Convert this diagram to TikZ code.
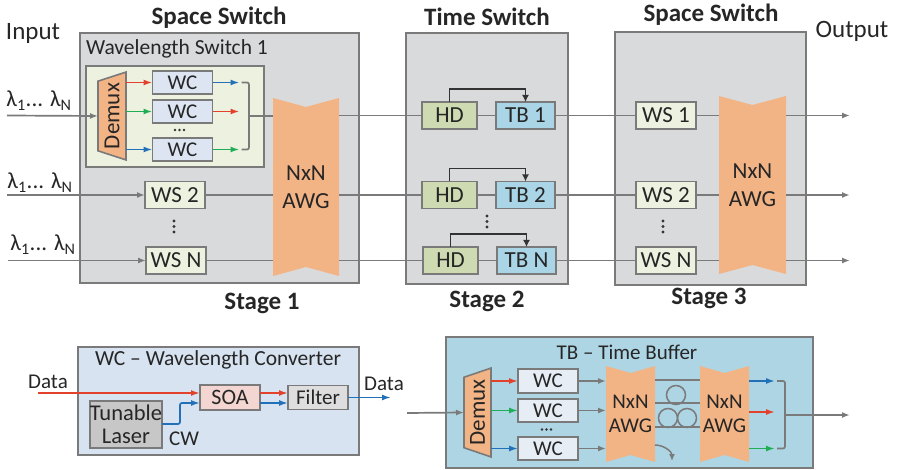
\documentclass[tikz,border=0pt]{standalone}
\usepackage{fontspec}
\setmainfont{Carlito}
\usetikzlibrary{arrows.meta, positioning, shapes.geometric, calc}
\definecolor{linegr}{HTML}{7A7A7A}
\definecolor{stagegr}{HTML}{D9DADC}
\definecolor{awgor}{HTML}{F2B385}
\definecolor{wsgr}{HTML}{EDF1E0}
\definecolor{hdgr}{HTML}{CEDBB2}
\definecolor{tbbl}{HTML}{A9D5E6}
\definecolor{wcbl}{HTML}{DCE5F1}
\definecolor{wcbox}{HTML}{D7E3F0}
\definecolor{tbbox}{HTML}{AED5E4}
\definecolor{soapk}{HTML}{F3D6D1}
\definecolor{sigr}{HTML}{E2412B}
\definecolor{sigg}{HTML}{20AE55}
\definecolor{sigb}{HTML}{2170B8}
\newcommand{\fs}[1]{\fontsize{#1}{#1}\selectfont}
\tikzset{
  stg/.style ={rectangle, draw=linegr, line width=1.6pt, fill=stagegr, outer sep=0pt},
  blk/.style ={rectangle, draw=linegr, line width=1.6pt, align=center, inner sep=0pt, outer sep=0pt, text=black!85},
  ws/.style  ={blk, fill=wsgr, minimum width=60pt, minimum height=27pt, font=\fs{23}},
  hd/.style  ={blk, fill=hdgr, minimum width=55pt, minimum height=27pt, font=\fs{23}},
  tb/.style  ={blk, fill=tbbl, minimum width=59pt, minimum height=27pt, font=\fs{23}},
  wc/.style  ={blk, fill=wcbl, minimum width=60pt, minimum height=23.5pt, font=\fs{21}},
  dmx/.style ={shape=trapezium, trapezium stretches=true, trapezium angle=60, rotate=90, draw=linegr, line width=1.6pt,
    fill=awgor, inner sep=0pt, outer sep=0pt, font=\fs{23}, text=black!85},
  awg/.style ={rectangle, inner sep=0pt, outer sep=0pt, align=center, text=black!85,
    path picture={\fill[awgor] (path picture bounding box.north west)
      -- ($(path picture bounding box.north)+(0,-#1pt)$)
      -- (path picture bounding box.north east)
      -- (path picture bounding box.south east)
      -- ($(path picture bounding box.south)+(0,#1pt)$)
      -- (path picture bounding box.south west) -- cycle;}},
  ttl/.style ={font=\fs{25}\bfseries, text=black!85, inner sep=0pt},
  lbl/.style ={font=\fs{21}, text=black!85, inner sep=0pt},
  loop/.style={circle, draw=linegr, line width=1.5pt, minimum size=19pt, inner sep=0pt},
  fl/.style  ={line width=1.7pt, draw=linegr, -{Latex[length=8pt,width=6pt]}},
  ln/.style  ={line width=1.7pt, draw=linegr},
  fb/.style  ={line width=1.6pt, draw=black!80, -{Latex[length=7pt,width=7pt]}},
  flr/.style ={line width=1.7pt, draw=sigr, -{Latex[length=9pt,width=6pt]}},
  flg/.style ={line width=1.7pt, draw=sigg, -{Latex[length=9pt,width=6pt]}},
  flb/.style ={line width=1.7pt, draw=sigb, -{Latex[length=9pt,width=6pt]}},
  dts/.style ={fill=black!80},
}
\begin{document}
\begin{tikzpicture}[x=1pt, y=-1pt]
  \useasboundingbox (0,0) rectangle (897,470);
  % top row
  \node[stg, minimum width=279pt, minimum height=250pt] (s1) at (219.5,158) {};
  \node[stg, minimum width=162pt, minimum height=251pt] (s2) at (487,158.5) {};
  \node[stg, minimum width=191pt, minimum height=253pt] (s3) at (710.5,158.5) {};
  \node[ttl] (t1) at (219,18) {Space Switch};
  \node[ttl] (t2) at (487,17) {Time Switch};
  \node[ttl] (t3) at (711,15) {Space Switch};
  \node[lbl, font=\fs{25}] (tin) at (33,33) {Input};
  \node[lbl, font=\fs{25}] (tout) at (852,31) {Output};
  \node[ttl] (g1) at (262,303) {Stage 1};
  \node[ttl] (g2) at (487,301) {Stage 2};
  \node[ttl] (g3) at (709,298) {Stage 3};
  \node[lbl, font=\fs{23}] (l1) at (39,101) {λ\textsubscript{1}... λ\textsubscript{N}};
  \node[lbl, font=\fs{23}] (l2) at (40,183) {λ\textsubscript{1}... λ\textsubscript{N}};
  \node[lbl, font=\fs{23}] (l3) at (43,245) {λ\textsubscript{1}... λ\textsubscript{N}};
  \node[lbl, font=\fs{21.5}] (wst) at (177,49) {Wavelength Switch 1};
  \node[rectangle, draw=linegr, line width=1.6pt, fill=wsgr, minimum width=178pt, minimum height=101pt, outer sep=0pt] (ws1) at (175,116.5) {};
  \node[dmx, minimum width=88pt, minimum height=28pt] (dm1) at (112,116) {Demux};
  \node[wc] (wc1) at (182.5,82.5) {WC};
  \node[wc, below=5.5pt of wc1] (wc2) {WC};
  \node[wc] (wc3) at (182.5,149.5) {WC};
  \fill[dts] (175,130) circle (1.4) (179.5,130) circle (1.4) (184,130) circle (1.4);
  \coordinate[right=27pt of wc1] (o1);
  \coordinate[right=27pt of wc2] (o2);
  \coordinate[right=27pt of wc3] (o3);
  \coordinate (mj) at (249,116);
  \node[ws] (ws2) at (175,195) {WS 2};
  \node[ws] (wsn) at (176,260.5) {WS N};
  \fill[dts] (174,221) circle (1.7) (174,226.5) circle (1.7) (174,232) circle (1.7);
  \node[awg=9, minimum width=66pt, minimum height=178pt, font=\fs{23}] (a1) at (306,187) {NxN\\[5pt]AWG};
  \node[hd] (hd1) at (449.5,115.5) {HD};
  \node[tb, right=19pt of hd1] (tb1) {TB 1};
  \node[hd] (hd2) at (449.5,195) {HD};
  \node[tb, right=19pt of hd2] (tb2) {TB 2};
  \node[hd] (hdn) at (450.5,260.5) {HD};
  \node[tb, right=19pt of hdn] (tbn) {TB N};
  \fill[dts] (487,216) circle (1.7) (487,221.5) circle (1.7) (487,227) circle (1.7);
  \node[ws] (ws31) at (666,115.5) {WS 1};
  \node[ws] (ws32) at (666,195) {WS 2};
  \node[ws] (ws3n) at (666,260.5) {WS N};
  \fill[dts] (663,221) circle (1.7) (663,226.5) circle (1.7) (663,232) circle (1.7);
  \node[awg=9, minimum width=67pt, minimum height=178pt, font=\fs{23}] (a3) at (752.5,185) {NxN\\[5pt]AWG};
  \coordinate (in1) at (7,115.5);
  \coordinate (in2) at (7,195);
  \coordinate (in3) at (8,260.5);
  \coordinate (out1) at (850,115.5);
  \coordinate (out2) at (850,195);
  \coordinate (out3) at (850,260.5);
  \draw[fl] (in1) -- (dm1.north);
  \draw[fl] (in2) -- (ws2);
  \draw[fl] (in3) -- (wsn);
  \draw[flr] (wc1.west -| dm1.south) -- (wc1);
  \draw[flg] (wc2.west -| dm1.south) -- (wc2);
  \draw[flb] (wc3.west -| dm1.south) -- (wc3);
  \draw[flb] (wc1) -- (o1);
  \draw[flr] (wc2) -- (o2);
  \draw[flg] (wc3) -- (o3);
  \draw[ln, rounded corners=2pt] (o1) ++(2,0) -| (mj) |- ($(o3)+(2,0)$);
  \draw[ln] (mj) -- (mj -| a1.west);
  \draw[ln] (ws2) -- (ws2 -| a1.west);
  \draw[ln] (wsn) -- (wsn -| a1.west);
  \draw[ln] (hd1 -| a1.east) -- (hd1);
  \draw[ln] (hd2 -| a1.east) -- (hd2);
  \draw[ln] (hdn -| a1.east) -- (hdn);
  \draw[ln] (hd1) -- (tb1);
  \draw[ln] (hd2) -- (tb2);
  \draw[ln] (hdn) -- (tbn);
  \draw[fb] (hd1.north) -- ++(0,-13) -| (tb1.north);
  \draw[fb] (hd2.north) -- ++(0,-13) -| (tb2.north);
  \draw[fb] (hdn.north) -- ++(0,-13) -| (tbn.north);
  \draw[ln] (tb1) -- (ws31);
  \draw[ln] (tb2) -- (ws32);
  \draw[ln] (tbn) -- (ws3n);
  \draw[ln] (ws31) -- (ws31 -| a3.west);
  \draw[ln] (ws32) -- (ws32 -| a3.west);
  \draw[ln] (ws3n) -- (ws3n -| a3.west);
  \draw[fl] (out1 -| a3.east) -- (out1);
  \draw[fl] (out2 -| a3.east) -- (out2);
  \draw[fl] (out3 -| a3.east) -- (out3);
  % wavelength converter
  \node[stg, fill=wcbox, minimum width=281pt, minimum height=108pt] (wcb) at (218.5,401) {};
  \node[lbl, font=\fs{21.5}] (wct) at (218,360) {WC -- Wavelength Converter};
  \node[blk, fill=soapk, minimum width=60pt, minimum height=25pt, font=\fs{22}] (soa) at (230,397.5) {SOA};
  \node[blk, fill=black!13, minimum width=60pt, minimum height=24pt, font=\fs{21}, right=28pt of soa] (flt) {Filter};
  \node[blk, fill=black!22, minimum width=70pt, minimum height=47pt, font=\fs{22.5}] (las) at (126,424.5) {Tunable\\Laser};
  \node[lbl] (d1) at (48,382) {Data};
  \node[lbl] (d2) at (384,384) {Data};
  \node[lbl] (cw) at (184,439) {CW};
  \coordinate (din) at (38,393);
  \coordinate (dout) at (391,397.5);
  \draw[flr] (din) -- (din -| soa.west);
  \draw[flb, rounded corners=2pt] (las.east |- 0,424) -- (180,424) |- (soa.west |- 0,403);
  \draw[flr] (soa.east |- 0,393) -- (flt.west |- 0,393);
  \draw[flb] (soa.east |- 0,403) -- (flt.west |- 0,403);
  \draw[flb] (flt) -- (dout);
  % time buffer
  \node[stg, fill=tbbox, minimum width=367pt, minimum height=131pt] (tbb) at (629.5,402.5) {};
  \node[lbl] (tbt) at (627,352) {TB -- Time Buffer};
  \node[dmx, minimum width=89pt, minimum height=27pt] (dm2) at (477.5,412.5) {Demux};
  \node[wc, fill=wcbl!70!white] (wb1) at (548,381) {WC};
  \node[wc, fill=wcbl!70!white, below=6pt of wb1] (wb2) {WC};
  \node[wc, fill=wcbl!70!white] (wb3) at (548,448.5) {WC};
  \fill[dts] (542,429.5) circle (1.4) (546.5,429.5) circle (1.4) (551,429.5) circle (1.4);
  \node[awg=7, minimum width=49pt, minimum height=96pt, font=\fs{21}] (a4) at (630.5,414) {NxN\\[3pt]AWG};
  \node[awg=7, minimum width=49pt, minimum height=96pt, font=\fs{21}] (a5) at (724.5,414) {NxN\\[3pt]AWG};
  \coordinate (bi) at (407,413);
  \coordinate (bo) at (850,415);
  \coordinate (bj) at (785,415);
  \coordinate[right=26pt of a5.east |- wb1] (b1);
  \coordinate[right=26pt of a5.east |- wb2] (b2);
  \coordinate[right=26pt of a5.east |- wb3] (b3);
  \draw[fl] (bi) -- (dm2.north);
  \draw[flr] (wb1.west -| dm2.south) -- (wb1);
  \draw[flg] (wb2.west -| dm2.south) -- (wb2);
  \draw[flb] (wb3.west -| dm2.south) -- (wb3);
  \draw[fl] (wb1) -- (wb1 -| a4.west);
  \draw[fl] (wb2) -- (wb2 -| a4.west);
  \draw[fl] (wb3) -- (wb3 -| a4.west);
  \draw[ln] (a4.east |- 0,380) -- (a5.west |- 0,380);
  \draw[ln] (a4.east |- 0,403) -- (a5.west |- 0,403);
  \draw[ln] (a4.east |- 0,427) -- (a5.west |- 0,427);
  \node[loop] (c1) at (676,395) {};
  \node[loop] (c2) at (668,418) {};
  \node[loop] (c3) at (687,418) {};
  \draw[line width=1.5pt, draw=linegr, -{Latex[length=7pt,width=6pt]}] (a4.east |- 0,445) to[out=0, in=90] (672,461);
  \draw[flb] (a5.east |- b1) -- (b1);
  \draw[flr] (a5.east |- 0,412) -- (b1 |- 0,412);
  \draw[flg] (a5.east |- b3) -- (b3);
  \draw[ln, rounded corners=2pt] (b1) ++(2,0) -| (bj) |- ($(b3)+(2,0)$);
  \draw[fl] (bj) -- (bo);
\end{tikzpicture}
\end{document}
